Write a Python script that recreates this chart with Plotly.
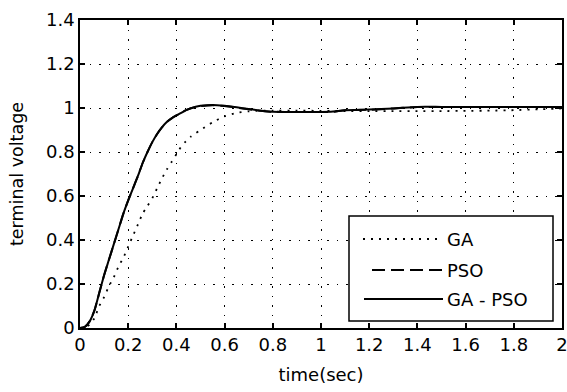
import plotly.graph_objects as go

# time axis (s)
t = [0, 0.02, 0.04, 0.06, 0.08, 0.10, 0.12, 0.14, 0.16, 0.18, 0.20, 0.22, 0.24, 0.26,
     0.28, 0.30, 0.32, 0.34, 0.36, 0.38, 0.40, 0.42, 0.44, 0.46, 0.48, 0.50, 0.55, 0.60,
     0.65, 0.70, 0.75, 0.80, 0.90, 1.00, 1.05, 1.10, 1.20, 1.30, 1.40, 1.50, 1.60, 1.70,
     1.80, 1.90, 2.00]

ga = [0, 0.003, 0.015, 0.045, 0.10, 0.14, 0.19, 0.23, 0.28, 0.32, 0.37, 0.42, 0.47, 0.52,
      0.555, 0.59, 0.635, 0.68, 0.72, 0.755, 0.79, 0.825, 0.85, 0.87, 0.885, 0.90, 0.935, 0.962,
      0.978, 0.985, 0.988, 0.988, 0.988, 0.987, 0.987, 0.986, 0.986, 0.986, 0.986, 0.986, 0.987, 0.988,
      0.99, 0.994, 0.998]

pso = [0, 0.005, 0.03, 0.08, 0.16, 0.24, 0.31, 0.38, 0.45, 0.52, 0.58, 0.635, 0.69, 0.75,
       0.80, 0.845, 0.882, 0.912, 0.936, 0.953, 0.966, 0.978, 0.99, 0.999, 1.005, 1.009, 1.013, 1.009,
       1.002, 0.994, 0.987, 0.983, 0.982, 0.982, 0.983, 0.99, 0.992, 0.998, 1.004, 1.005, 1.005, 1.005,
       1.005, 1.005, 1.005]

ga_pso = [0, 0.005, 0.03, 0.08, 0.16, 0.24, 0.31, 0.38, 0.45, 0.52, 0.58, 0.635, 0.69, 0.75,
          0.80, 0.845, 0.882, 0.912, 0.936, 0.953, 0.966, 0.978, 0.99, 0.999, 1.006, 1.01, 1.014, 1.01,
          1.003, 0.995, 0.988, 0.983, 0.982, 0.982, 0.984, 0.99, 0.993, 0.998, 1.005, 1.005, 1.005, 1.005,
          1.005, 1.005, 1.005]

x_ticks = [0, 0.2, 0.4, 0.6, 0.8, 1.0, 1.2, 1.4, 1.6, 1.8, 2.0]
x_tick_text = ["0", "0.2", "0.4", "0.6", "0.8", "1", "1.2", "1.4", "1.6", "1.8", "2"]
y_ticks = [0, 0.2, 0.4, 0.6, 0.8, 1.0, 1.2, 1.4]
y_tick_text = ["0", "0.2", "0.4", "0.6", "0.8", "1", "1.2", "1.4"]

legend_names = ["GA", "PSO", "GA - PSO"]

FONT = "DejaVu Sans, Liberation Sans, Arial, sans-serif"

fig = go.Figure()
fig.add_trace(go.Scatter(x=t, y=ga, mode="lines", name=legend_names[0],
                         line=dict(color="black", width=1.8, dash="2px,6px",
                                   shape="spline", smoothing=0.6)))
fig.add_trace(go.Scatter(x=t, y=pso, mode="lines", name=legend_names[1],
                         line=dict(color="black", width=2, dash="13px,6px",
                                   shape="spline", smoothing=0.6)))
fig.add_trace(go.Scatter(x=t, y=ga_pso, mode="lines", name=legend_names[2],
                         line=dict(color="black", width=2, shape="spline", smoothing=0.6)))

L, R, T, B = 80, 562, 20, 328
W, H = 567, 392

def px(x):
    return (x - L) / (R - L)

def py(y):
    return (B - y) / (B - T)

# manual legend
shapes = [dict(type="rect", xref="paper", yref="paper",
               x0=px(349), x1=px(553), y0=py(321), y1=py(216),
               line=dict(color="black", width=1.5), fillcolor="white", layer="above")]
rows = [(239, "2px,6px", 363, 1.8), (270, "13px,6px", 372, 2), (299, "solid", 364, 2)]
annotations = []
for (yy, dash, x0, w), name in zip(rows, legend_names):
    shapes.append(dict(type="line", xref="paper", yref="paper",
                       x0=px(x0), x1=px(443), y0=py(yy), y1=py(yy),
                       line=dict(color="black", width=w, dash=dash), layer="above"))
    annotations.append(dict(xref="paper", yref="paper", x=px(445), y=py(yy),
                            text=name, showarrow=False, xanchor="left", yanchor="middle",
                            font=dict(family=FONT, size=18, color="black")))

axis_common = dict(showline=True, linecolor="black", linewidth=1.5, mirror="ticks",
                   ticks="inside", ticklen=5, tickcolor="black", tickwidth=1.5,
                   showgrid=True, gridcolor="black", gridwidth=1.2, griddash="1.5px,8px",
                   zeroline=False, automargin=False, ticklabeloverflow="allow",
                   tickfont=dict(family=FONT, size=18, color="black"))

fig.update_layout(
    width=W, height=H,
    margin=dict(l=L, r=W - R, t=T, b=H - B),
    paper_bgcolor="white", plot_bgcolor="white",
    showlegend=False,
    shapes=shapes, annotations=annotations,
    xaxis=dict(range=[0, 2], tickvals=x_ticks, ticktext=x_tick_text,
               title=dict(text="time(sec)", font=dict(family=FONT, size=18, color="black"), standoff=14),
               **axis_common),
    yaxis=dict(range=[0, 1.4], tickvals=y_ticks, ticktext=y_tick_text,
               title=dict(text="terminal voltage", font=dict(family=FONT, size=17.5, color="black"), standoff=18),
               **axis_common),
)

fig.write_html("out.html")
